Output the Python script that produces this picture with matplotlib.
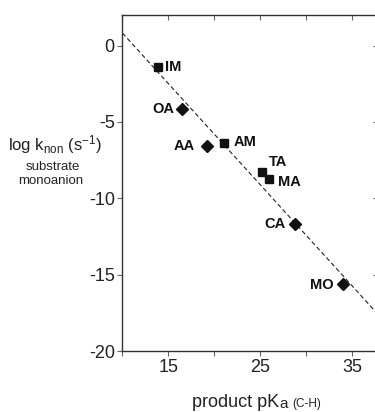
import matplotlib
matplotlib.use('Agg')
import matplotlib.pyplot as plt
from matplotlib import lines as mlines
import numpy as np

plt.rcParams['font.family'] = ['Liberation Sans', 'DejaVu Sans']
plt.rcParams['mathtext.fontset'] = 'custom'
plt.rcParams['mathtext.rm'] = 'Liberation Sans'
plt.rcParams['mathtext.it'] = 'Liberation Sans:italic'
plt.rcParams['mathtext.bf'] = 'Liberation Sans:bold'

# ---- data ----
labels = ['IM', 'OA', 'AA', 'AM', 'TA', 'MA', 'CA', 'MO']
pka = [13.9, 16.5, 19.2, 21.0, 25.2, 25.9, 28.8, 34.0]
logk = [-1.4, -4.15, -6.6, -6.38, -8.28, -8.76, -11.7, -15.6]
shapes = ['s', 'D', 'D', 's', 's', 's', 'D', 'D']
fit_intercept_at10 = 0.82
fit_slope = -0.663
fit_x = [10, 38]
xticks = [10, 15, 20, 25, 30, 35]
xticklabels = ['', '15', '', '25', '', '35']
yticks = [0, -5, -10, -15, -20]
yticklabels = ['0', '-5', '-10', '-15', '-20']

# ---- label placement (offset points, ha) ----
label_pos = {
    'IM': ((5, 0), 'left'),
    'OA': ((-6, 0), 'right'),
    'AA': ((-9, 0), 'right'),
    'AM': ((7.5, 0.5), 'left'),
    'TA': ((5, 7), 'left'),
    'MA': ((6.5, -2), 'left'),
    'CA': ((-7, 0), 'right'),
    'MO': ((-7, -1), 'right'),
}

fig = plt.figure(figsize=(3.75, 4.12), dpi=100)
ax = fig.add_axes([0.3265, 0.148, 0.682, 0.8155])
ax.set_xlim(10, 37.8)
ax.set_ylim(-20, 2)

fx = np.array(fit_x, dtype=float)
ax.plot(fx, fit_intercept_at10 + fit_slope * (fx - 10), color='#222222',
        lw=0.8, linestyle=(0, (4, 2.5)), zorder=1)

for lab, x, y, m in zip(labels, pka, logk, shapes):
    ax.plot([x], [y], marker=m, markersize=6, color='#111111',
            linestyle='none', zorder=3)
    off, ha = label_pos[lab]
    ax.annotate(lab, (x, y), xytext=off, textcoords='offset points',
                ha=ha, va='center', fontsize=10.5, fontweight='bold',
                color='#111111')

spine_c = '#333333'
for s in ['left', 'bottom', 'top', 'right']:
    ax.spines[s].set_color(spine_c)
    ax.spines[s].set_linewidth(1.0)

ax.set_xticks(xticks)
ax.set_xticklabels(xticklabels)
ax.set_yticks(yticks)
ax.set_yticklabels(yticklabels)
ax.tick_params(axis='both', direction='out', length=3.5, width=0.8,
               color='#666666', labelsize=13, labelcolor='#222222', pad=2,
               top=True, right=True)

# make top/right ticks point inward
for t in ax.xaxis.get_major_ticks():
    t.tick2line.set_marker(mlines.TICKDOWN)
for t in ax.yaxis.get_major_ticks():
    t.tick2line.set_marker(mlines.TICKLEFT)

# y label
fig.text(0.021, 1 - 150/412, r'log k$_{\mathrm{non}}$ (s$^{\mathrm{-1}}$)',
         fontsize=12, ha='left', va='baseline', color='#222222')
fig.text(0.14, 1 - 167/412, 'substrate', fontsize=9.5, ha='center',
         va='center', color='#222222')
fig.text(0.135, 1 - 181/412, 'monoanion', fontsize=9.5, ha='center',
         va='center', color='#222222')

# x label
t1 = fig.text(192/375, 1 - 407/412, 'product pK', fontsize=13,
              ha='left', va='baseline', color='#222222')
t2 = ax.annotate('a', xy=(1, 0), xycoords=t1, xytext=(0.3, 0),
                 textcoords='offset points', fontsize=11, ha='left',
                 va='bottom', color='#222222', annotation_clip=False)
t3 = ax.annotate('(C-H)', xy=(1, 0), xycoords=t2, xytext=(3, 0.5),
                 textcoords='offset points', fontsize=8.5, ha='left',
                 va='bottom', color='#222222', annotation_clip=False)

fig.savefig('out.png', dpi=100)
